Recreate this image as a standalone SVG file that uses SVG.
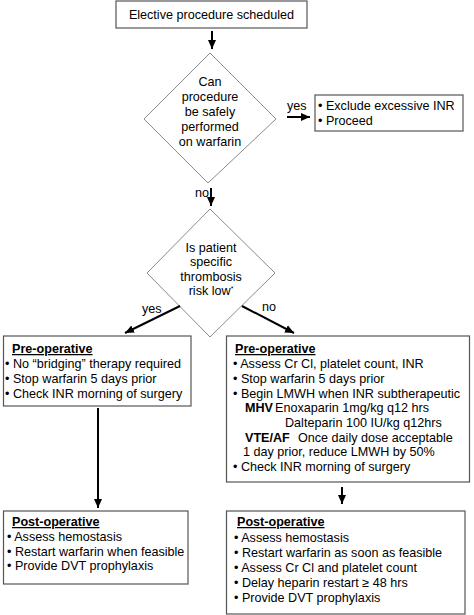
<svg xmlns="http://www.w3.org/2000/svg" width="474" height="615" viewBox="0 0 474 615">
<defs>
<marker id="ah" markerUnits="userSpaceOnUse" markerWidth="10" markerHeight="10" viewBox="0 0 10 10" refX="9" refY="5" orient="auto">
<path d="M0,1 L9,5 L0,9 Z" fill="#000"/>
</marker>
<style>
text{font-family:"Liberation Sans",Arial,sans-serif;font-size:12.6px;fill:#000}
.c{text-anchor:middle}
.b{font-weight:bold}
.u{font-weight:bold;text-decoration:underline}
.box{fill:#fff;stroke:#555;stroke-width:1.2}
.dia{fill:#fff;stroke:#8a8a8a;stroke-width:1}
.con line{stroke:#000;stroke-width:2;marker-end:url(#ah)}
</style>
</defs>
<rect width="474" height="615" fill="#fff"/>
<g id="start">
<rect class="box" x="116" y="1" width="191" height="27"/>
<text class="c" x="211.5" y="19">Elective procedure scheduled</text>
</g>
<g id="q1">
<polygon class="dia" points="210,53 276,119 208,183 144,119"/>
<text class="c" x="210" y="86">Can</text>
<text class="c" x="210" y="101">procedure</text>
<text class="c" x="210" y="116">be safely</text>
<text class="c" x="210" y="131">performed</text>
<text class="c" x="210" y="146">on warfarin</text>
</g>
<g id="proceed">
<rect class="box" x="315" y="95" width="148" height="36"/>
<text x="318" y="110">• Exclude excessive INR</text>
<text x="318" y="125">• Proceed</text>
</g>
<g id="q2">
<polygon class="dia" points="210,209 275,273 210,337 147,273"/>
<text class="c" x="211" y="252">Is patient</text>
<text class="c" x="211" y="266">specific</text>
<text class="c" x="211" y="281">thrombosis</text>
<text class="c" x="211" y="295">risk low<tspan font-size="7" dy="-4">*</tspan></text>
</g>
<g id="preLow">
<rect class="box" x="3.5" y="336" width="187.5" height="70"/>
<text class="u" x="12" y="353">Pre-operative</text>
<text x="5" y="368">• No “bridging” therapy required</text>
<text x="5" y="383">• Stop warfarin 5 days prior</text>
<text x="5" y="398">• Check INR morning of surgery</text>
</g>
<g id="preHigh">
<rect class="box" x="226.5" y="336" width="243" height="146"/>
<text class="u" x="235" y="353">Pre-operative</text>
<text x="233" y="367.5">• Assess Cr Cl, platelet count, INR</text>
<text x="233" y="382.5">• Stop warfarin 5 days prior</text>
<text x="233" y="397.5">• Begin LMWH when INR subtherapeutic</text>
<text x="245" y="412"><tspan class="b">MHV</tspan></text>
<text x="275" y="412">Enoxaparin 1mg/kg q12 hrs</text>
<text x="285" y="426.5">Dalteparin 100 IU/kg q12hrs</text>
<text x="245" y="441.5"><tspan class="b">VTE/AF</tspan></text>
<text x="298" y="441.5">Once daily dose acceptable</text>
<text x="243" y="456">1 day prior, reduce LMWH by 50%</text>
<text x="233" y="471">• Check INR morning of surgery</text>
</g>
<g id="postLow">
<rect class="box" x="3.5" y="511" width="184.5" height="73"/>
<text class="u" x="12" y="526">Post-operative</text>
<text x="7" y="541">• Assess hemostasis</text>
<text x="7" y="555.5">• Restart warfarin when feasible</text>
<text x="7" y="570">• Provide DVT prophylaxis</text>
</g>
<g id="postHigh">
<rect class="box" x="226.5" y="511" width="238.5" height="103"/>
<text class="u" x="237" y="526">Post-operative</text>
<text x="234" y="542">• Assess hemostasis</text>
<text x="234" y="557">• Restart warfarin as soon as feasible</text>
<text x="234" y="572">• Assess Cr Cl and platelet count</text>
<text x="234" y="587">• Delay heparin restart ≥ 48 hrs</text>
<text x="234" y="601.5">• Provide DVT prophylaxis</text>
</g>
<g id="connectors" class="con">
<line x1="212" y1="31" x2="212" y2="49"/>
<line x1="287" y1="117" x2="310" y2="117"/>
<line x1="211" y1="188" x2="211" y2="206"/>
<line x1="180" y1="306" x2="125" y2="333"/>
<line x1="242" y1="306" x2="294" y2="333"/>
<line x1="98" y1="408" x2="98" y2="508"/>
<line x1="342" y1="487" x2="342" y2="504"/>
</g>
<g id="labels">
<text x="287" y="110">yes</text>
<text x="195" y="197">no</text>
<text x="142" y="313">yes</text>
<text x="262" y="311">no</text>
</g>
</svg>
